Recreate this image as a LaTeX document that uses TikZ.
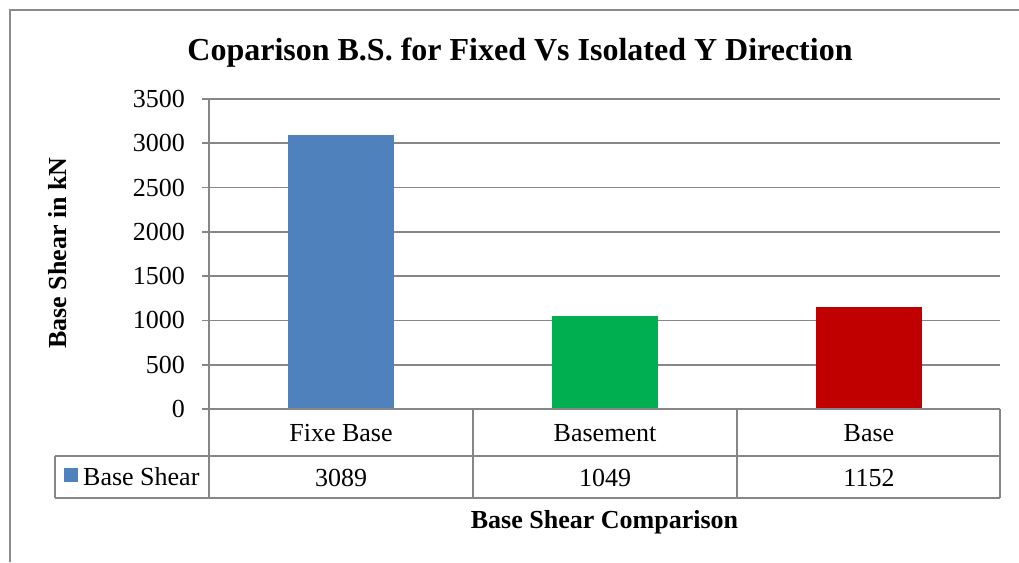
\documentclass[tikz,border=0pt]{standalone}
\usepackage{fontspec}
\setmainfont{Liberation Serif}
\definecolor{barblue}{HTML}{4F81BD}
\definecolor{bargreen}{HTML}{00B050}
\definecolor{barred}{HTML}{C00000}
\definecolor{gridgray}{HTML}{868686}
\definecolor{bordergray}{HTML}{8C8C8C}
\begin{document}
\begin{tikzpicture}[x=1pt,y=-1pt,
  gridline/.style={draw=gridgray,line width=1.6pt},
  lbl/.style={font=\fontsize{26}{30}\selectfont,inner sep=0pt},
  blbl/.style={font=\fontsize{26}{30}\selectfont\bfseries,inner sep=0pt}]
\useasboundingbox (0,0) rectangle (1019,562);
\fill[white] (0,0) rectangle (1019,562);
% outer chart border (partly visible)
\draw[draw=bordergray,line width=2pt] (9.5,562) -- (9.5,9.5) -- (1019,9.5);
% title
\node[font=\fontsize{32}{36}\selectfont\bfseries,inner sep=0pt,anchor=base] (title) at (520,60) {Coparison B.S. for Fixed Vs Isolated Y Direction};
% gridlines
\foreach \v in {500,1000,...,3500}
  \draw[gridline] (202,{409-\v*0.08857}) -- (1000,{409-\v*0.08857});
% bars
\fill[barblue]  (288,409) rectangle (394,{409-3089*0.08857});
\fill[bargreen] (552,409) rectangle (658,{409-1049*0.08857});
\fill[barred]   (816,409) rectangle (922,{409-1152*0.08857});
% axis and data table
\draw[gridline] (202,409) -- (1000,409);
\draw[gridline] (209,99) -- (209,498);
\draw[gridline] (55,456) -- (1000,456);
\draw[gridline] (55,498) -- (1000,498);
\draw[gridline] (55,456) -- (55,498);
\draw[gridline] (473,409) -- (473,498);
\draw[gridline] (737,409) -- (737,498);
\draw[gridline] (1000,409) -- (1000,498);
% tick labels
\foreach \v in {0,500,...,3500}
  \node[lbl,anchor=east] (tick\v) at (185,{409-\v*0.08857}) {\v};
% axis title
\node[blbl,rotate=90] (ytitle) at (58,253) {Base Shear in kN};
% category labels
\node[lbl] (cat1) at (341,433) {Fixe Base};
\node[lbl] (cat2) at (605,433) {Basement};
\node[lbl] (cat3) at (869,433) {Base};
% legend entry
\fill[barblue] (64,468) rectangle (78,482);
\node[lbl,anchor=west] (legend) at (83,477) {Base Shear};
% values
\node[lbl] (val1) at (341,478) {3089};
\node[lbl] (val2) at (605,478) {1049};
\node[lbl] (val3) at (869,478) {1152};
% x axis title
\node[blbl,anchor=base] (xtitle) at (604.5,528) {Base Shear Comparison};
\end{tikzpicture}
\end{document}
